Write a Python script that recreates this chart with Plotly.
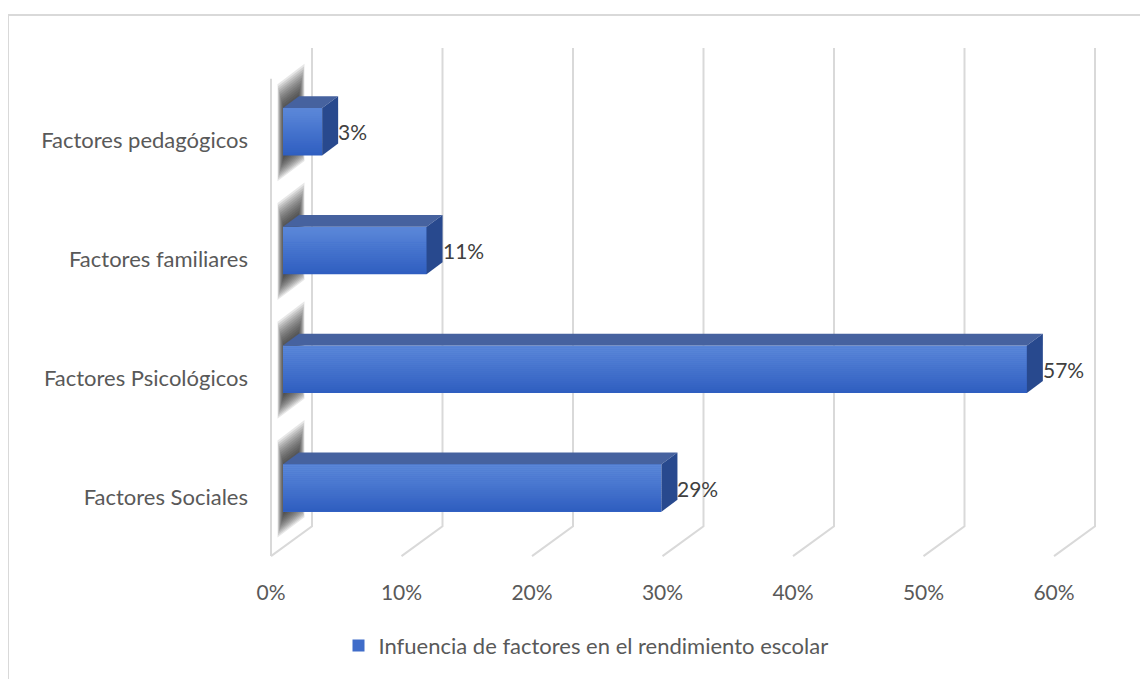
import plotly.graph_objects as go

# ---------------- data ----------------
categories = ["Factores Sociales", "Factores Psicológicos", "Factores familiares", "Factores pedagógicos"]
values = [29, 57, 11, 3]
x_ticks = [0, 10, 20, 30, 40, 50, 60]
x_tick_labels = ["0%", "10%", "20%", "30%", "40%", "50%", "60%"]
series_name = "Infuencia de factores en el rendimiento escolar"

# ---------------- geometry (reference pixels) ----------------
OFF = 8                      # page body margin compensation
W, H = 1148 - OFF, 679 - OFF
Lr, Tr = 260, 40             # plot area left/top in reference pixels
plot_w, plot_h = 850, 540
L, T = Lr - OFF, Tr - OFF
R = W - L - plot_w
B = H - T - plot_h

SX = 13.05          # px per percent
X0PX = 283          # reference pixel of 0 on the bar plane
SY = 119.2          # px per category step
Y0PX = 489.7        # reference pixel of first category centre (bar front face)

xa = -(X0PX - Lr) / SX
xb = xa + plot_w / SX
ya = (Y0PX - (Tr + plot_h)) / SY
yb = (Y0PX - Tr) / SY


def ux(dpx):
    return dpx / SX


def uy(dpx):  # pixel offset downward -> data units
    return -dpx / SY


def vx(px):
    return (px - X0PX) / SX


def vy(py):
    return (Y0PX - py) / SY


def paper_x(px):
    return (px - Lr) / plot_w


def paper_y(py):
    return (Tr + plot_h - py) / plot_h


def lerp_col(c1, c2, t):
    a = [int(c1[i:i + 2], 16) for i in (1, 3, 5)]
    b = [int(c2[i:i + 2], 16) for i in (1, 3, 5)]
    return "#" + "".join(f"{round(a[j] + (b[j] - a[j]) * t):02x}" for j in range(3))


BAR_PX = 47.5
BAR_W = BAR_PX / SY
DEPTH = (16, -12)        # bar depth in px
FRONT = (-12, 9)         # front plane offset vs bar plane
BACK = (29, -22)         # back plane offset vs bar plane
WALL_TOP_BACK, WALL_BOT_BACK, WALL_BOT_FRONT = 48, 528, 558

TEXT = "#595959"
FONT = "Lato"

fig = go.Figure()
ypos = list(range(len(categories)))

fig.add_trace(go.Bar(
    y=ypos, x=values, orientation="h", width=BAR_W,
    marker=dict(color="#3f6cc9", line=dict(width=0)),
    name=series_name, showlegend=True, hoverinfo="x+y",
))

shapes = []

# chart border
shapes.append(dict(type="rect", xref="paper", yref="paper",
                   x0=paper_x(8), x1=paper_x(1170), y0=paper_y(700), y1=paper_y(15),
                   line=dict(color="#d9d9d9", width=2), fillcolor="rgba(0,0,0,0)", layer="below"))

# gridlines (back plane + floor diagonal)
for t in x_ticks:
    bx = X0PX + t * SX + BACK[0]
    fx = bx - 41
    path = (f"M{vx(bx)},{vy(WALL_TOP_BACK)} L{vx(bx)},{vy(WALL_BOT_BACK)} "
            f"L{vx(fx)},{vy(WALL_BOT_FRONT)}")
    shapes.append(dict(type="path", xref="x", yref="y", path=path,
                       line=dict(color="#d9d9d9", width=2), layer="below"))
# left wall front edge
fx0 = X0PX + FRONT[0]
shapes.append(dict(type="path", xref="x", yref="y",
                   path=f"M{vx(fx0)},{vy(WALL_TOP_BACK + 31)} L{vx(fx0)},{vy(WALL_BOT_FRONT)}",
                   line=dict(color="#d9d9d9", width=2), layer="below"))

# blurred shadows on left wall
slope = 31 / 41
for i, v in enumerate(values):
    cpx = Y0PX - i * SY
    top = cpx - BAR_PX / 2
    bot = cpx + BAR_PX / 2
    for k in range(16):
        ex = k * 0.5
        ey = k * 2.0
        x1p = 285 - ex
        x2p = 297 + ex
        y1t = top - ey + 6
        y1b = bot + ey - 4
        y2t = y1t - slope * (x2p - x1p)
        y2b = y1b - slope * (x2p - x1p)
        path = (f"M{vx(x1p)},{vy(y1t)} L{vx(x2p)},{vy(y2t)} L{vx(x2p)},{vy(y2b)} "
                f"L{vx(x1p)},{vy(y1b)} Z")
        shapes.append(dict(type="path", xref="x", yref="y", path=path,
                           fillcolor="rgba(40,40,40,0.11)", line=dict(width=0), layer="below"))

# 3D faces + front gradient
N_STRIPES = 24
ddx, ddy = ux(DEPTH[0]), uy(DEPTH[1])
for i, v in enumerate(values):
    yb0 = i - BAR_W / 2
    yt0 = i + BAR_W / 2
    for k in range(N_STRIPES):
        tt = k / (N_STRIPES - 1)
        if tt < 0.15:
            c = lerp_col("#5a86d8", "#5582d6", tt / 0.15)
        else:
            c = lerp_col("#5582d6", "#2f5ec0", (tt - 0.15) / 0.85)
        s1 = yt0 - (yt0 - yb0) * k / N_STRIPES
        s0 = yt0 - (yt0 - yb0) * (k + 1) / N_STRIPES - 0.002
        shapes.append(dict(type="rect", xref="x", yref="y", x0=0, x1=v, y0=max(s0, yb0), y1=s1,
                           fillcolor=c, line=dict(width=0), layer="above"))
    top = f"M0,{yt0} L{v},{yt0} L{v + ddx},{yt0 + ddy} L{ddx},{yt0 + ddy} Z"
    shapes.append(dict(type="path", xref="x", yref="y", path=top,
                       fillcolor="#46629f", line=dict(width=0), layer="above"))
    right = f"M{v},{yb0} L{v},{yt0} L{v + ddx},{yt0 + ddy} L{v + ddx},{yb0 + ddy} Z"
    shapes.append(dict(type="path", xref="x", yref="y", path=right,
                       fillcolor="#28498e", line=dict(width=0), layer="above"))

annotations = []
for i, v in enumerate(values):
    annotations.append(dict(x=v, y=i, xref="x", yref="y", text=f"{v}%", showarrow=False,
                            xanchor="left", yanchor="middle", xshift=DEPTH[0] - 2,
                            font=dict(family=FONT, size=21, color="#404040")))

fig.update_layout(
    width=W, height=H, autosize=False,
    margin=dict(l=L, r=R, t=T, b=B),
    paper_bgcolor="white", plot_bgcolor="white",
    shapes=shapes, annotations=annotations,
    bargap=0,
    xaxis=dict(range=[xa, xb], showgrid=False, zeroline=False, showline=False,
               tickvals=[t + ux(FRONT[0]) for t in x_ticks], ticktext=x_tick_labels,
               tickfont=dict(family=FONT, size=21, color=TEXT), ticks=""),
    yaxis=dict(range=[ya, yb], showgrid=False, zeroline=False, showline=False,
               tickvals=[i + uy(FRONT[1]) for i in ypos], ticktext=categories,
               tickfont=dict(family=FONT, size=22, color=TEXT), ticks="",
               ticklabelstandoff=11),
    legend=dict(orientation="h", x=paper_x(586), xanchor="center", y=paper_y(648), yanchor="middle",
                font=dict(family=FONT, size=22, color=TEXT), bgcolor="rgba(0,0,0,0)"),
    font=dict(family=FONT, color=TEXT),
)

fig.write_html("out.html")
